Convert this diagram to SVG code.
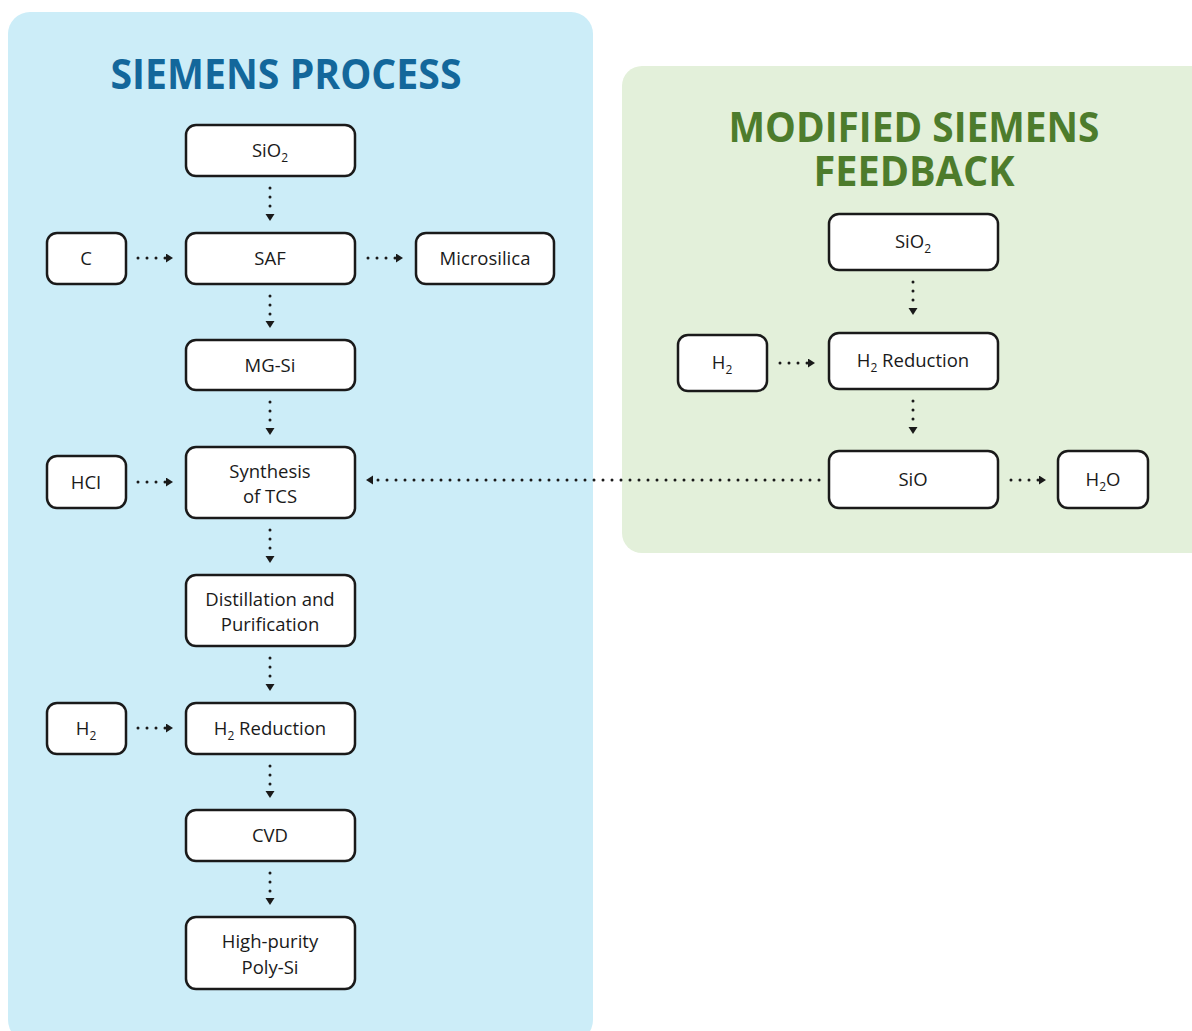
<svg xmlns="http://www.w3.org/2000/svg" width="1192" height="1031" viewBox="0 0 1192 1031">
<style>
.box{fill:#fff;stroke:#1a1a1a;stroke-width:2.5}
.t{font-family:"Open Sans","Noto Sans",sans-serif;font-size:18.5px;fill:#1a1a1a;text-anchor:middle}
.sub{font-size:12px}
.c{fill:none;stroke:#1a1a1a;stroke-width:3;stroke-linecap:round;stroke-dasharray:0 9}
.title{font-family:"Open Sans","Noto Sans",sans-serif;font-weight:bold;font-size:41px;text-anchor:middle}
</style>
<defs>
<marker id="ah" markerUnits="userSpaceOnUse" markerWidth="10" markerHeight="10" refX="0" refY="4.5" orient="auto" viewBox="0 0 10 10">
<path d="M0,0 L7,4.5 L0,9 z" fill="#1a1a1a"/>
</marker>
</defs>
<rect width="1192" height="1031" fill="#fff"/>
<rect x="8" y="12" width="585" height="1030" rx="22" fill="#ccedf8"/>
<rect x="622" y="66" width="600" height="487" rx="20" fill="#e3f0da"/>
<text class="title" x="286" y="89" fill="#13679b" textLength="351" lengthAdjust="spacingAndGlyphs">SIEMENS PROCESS</text>
<text class="title" x="914" y="142" fill="#4d7c2c" textLength="371" lengthAdjust="spacingAndGlyphs">MODIFIED SIEMENS</text>
<text class="title" x="914" y="186" fill="#4d7c2c" textLength="201" lengthAdjust="spacingAndGlyphs">FEEDBACK</text>

<g id="connectors">
<path class="c" d="M270,188 V214" marker-end="url(#ah)"/>
<path class="c" d="M270,296 V321" marker-end="url(#ah)"/>
<path class="c" d="M270,402 V428" marker-end="url(#ah)"/>
<path class="c" d="M270,530 V556" marker-end="url(#ah)"/>
<path class="c" d="M270,658 V684" marker-end="url(#ah)"/>
<path class="c" d="M270,766 V791" marker-end="url(#ah)"/>
<path class="c" d="M270,873 V898" marker-end="url(#ah)"/>
<path class="c" d="M138,258 H166" marker-end="url(#ah)"/>
<path class="c" d="M368,258 H396" marker-end="url(#ah)"/>
<path class="c" d="M138,482 H166" marker-end="url(#ah)"/>
<path class="c" d="M138,728 H166" marker-end="url(#ah)"/>
<path class="c" d="M780,363 H808" marker-end="url(#ah)"/>
<path class="c" d="M913,282 V308" marker-end="url(#ah)"/>
<path class="c" d="M913,401 V427" marker-end="url(#ah)"/>
<path class="c" d="M1011,480 H1039" marker-end="url(#ah)"/>
<path class="c" d="M819,480 H373" marker-end="url(#ah)"/>
</g>

<g id="n-sio2"><rect class="box" x="186" y="125" width="169" height="51" rx="10"/><text class="t" x="270" y="157">SiO<tspan class="sub" dy="5">2</tspan></text></g>
<g id="n-c"><rect class="box" x="47" y="233" width="79" height="51" rx="10"/><text class="t" x="86" y="265">C</text></g>
<g id="n-saf"><rect class="box" x="186" y="233" width="169" height="51" rx="10"/><text class="t" x="270" y="265">SAF</text></g>
<g id="n-micro"><rect class="box" x="416" y="233" width="138" height="51" rx="10"/><text class="t" x="485" y="265">Microsilica</text></g>
<g id="n-mgsi"><rect class="box" x="186" y="340" width="169" height="50" rx="10"/><text class="t" x="270" y="372">MG-Si</text></g>
<g id="n-hcl"><rect class="box" x="47" y="456" width="79" height="52" rx="10"/><text class="t" x="86" y="489">HCI</text></g>
<g id="n-synth"><rect class="box" x="186" y="447" width="169" height="71" rx="10"/><text class="t" x="270" y="478">Synthesis</text><text class="t" x="270" y="503">of TCS</text></g>
<g id="n-dist"><rect class="box" x="186" y="575" width="169" height="71" rx="10"/><text class="t" x="270" y="606">Distillation and</text><text class="t" x="270" y="631">Purification</text></g>
<g id="n-h2a"><rect class="box" x="47" y="703" width="79" height="51" rx="10"/><text class="t" x="86" y="735">H<tspan class="sub" dy="5">2</tspan></text></g>
<g id="n-h2reda"><rect class="box" x="186" y="703" width="169" height="51" rx="10"/><text class="t" x="270" y="735">H<tspan class="sub" dy="5">2</tspan><tspan dy="-5"> Reduction</tspan></text></g>
<g id="n-cvd"><rect class="box" x="186" y="810" width="169" height="51" rx="10"/><text class="t" x="270" y="842">CVD</text></g>
<g id="n-hp"><rect class="box" x="186" y="917" width="169" height="72" rx="10"/><text class="t" x="270" y="948">High-purity</text><text class="t" x="270" y="974">Poly-Si</text></g>

<g id="n-sio2b"><rect class="box" x="829" y="214" width="169" height="56" rx="10"/><text class="t" x="913" y="248">SiO<tspan class="sub" dy="5">2</tspan></text></g>
<g id="n-h2b"><rect class="box" x="678" y="335" width="89" height="56" rx="10"/><text class="t" x="722" y="369">H<tspan class="sub" dy="5">2</tspan></text></g>
<g id="n-h2redb"><rect class="box" x="829" y="333" width="169" height="56" rx="10"/><text class="t" x="913" y="367">H<tspan class="sub" dy="5">2</tspan><tspan dy="-5"> Reduction</tspan></text></g>
<g id="n-sio"><rect class="box" x="829" y="451" width="169" height="57" rx="10"/><text class="t" x="913" y="486">SiO</text></g>
<g id="n-h2o"><rect class="box" x="1058" y="451" width="90" height="57" rx="10"/><text class="t" x="1103" y="486">H<tspan class="sub" dy="5">2</tspan><tspan dy="-5">O</tspan></text></g>
</svg>
